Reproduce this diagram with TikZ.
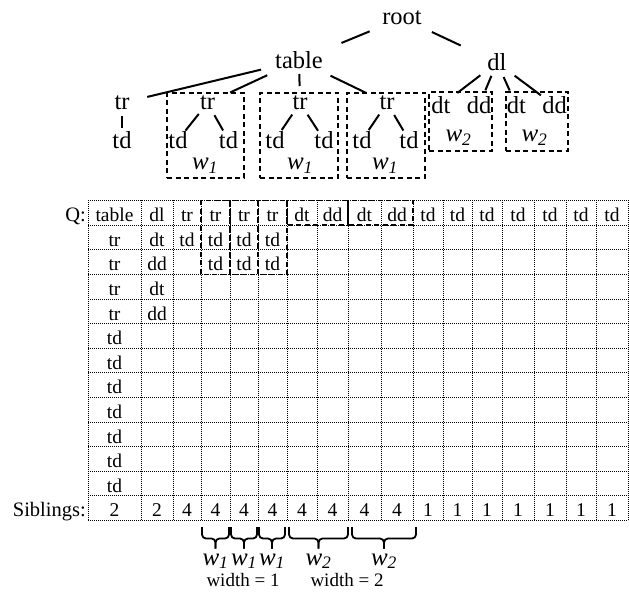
\documentclass[tikz,border=0pt]{standalone}
\usepackage{fontspec}
\setmainfont{Liberation Serif}

\newcommand{\wlab}[1]{\textit{w}\textsubscript{\textit{#1}}}
\def\colx{{114.5,157,187,215.5,244,272.5,302,332.5,364.5,397,428,457.5,487,518,550,581,612}}
\newcommand{\qcell}[3]{%
  \pgfmathsetmacro{\cellx}{\colx[#2]}%
  \pgfmathsetmacro{\celly}{200.5+(#1+1)*24.6-3.5}%
  \node[cell] (q-#1-#2) at (\cellx,\celly) {#3};}

\begin{document}
\begin{tikzpicture}[
  x=1pt, y=-1pt,
  tnode/.style={inner sep=0pt, font=\fontsize{24.5}{28}\selectfont},
  wnode/.style={inner sep=0pt, anchor=base, font=\fontsize{25}{28}\selectfont},
  branch/.style={line width=2pt},
  wbox/.style={draw, line width=1.5pt, dash pattern=on 5pt off 3.5pt, inner sep=0pt},
  cell/.style={inner sep=0pt, anchor=base, font=\fontsize{19.5}{22}\selectfont},
  rowlab/.style={inner sep=0pt, anchor=base east, font=\fontsize{20.5}{24}\selectfont},
  gridline/.style={line width=0.8pt, dash pattern=on 0.9pt off 1.1pt},
  brace/.style={line width=1.8pt, rounded corners=4pt}
]
  \useasboundingbox (0,0) rectangle (629,596);

  % tree
  \node[tnode] (root) at (402,18) {root};
  \node[tnode] (table) at (299,60.5) {table};
  \node[tnode] (dl) at (497,62.5) {dl};
  \node[tnode] (trA) at (122,103) {tr};
  \node[tnode] (tdA) at (122,140) {td};
  \node[tnode] (trB) at (207.5,103) {tr};
  \node[tnode] (tdB1) at (178,140) {td};
  \node[tnode] (tdB2) at (228.5,140) {td};
  \node[tnode] (trC) at (300,103) {tr};
  \node[tnode] (tdC1) at (275,140) {td};
  \node[tnode] (tdC2) at (324,140) {td};
  \node[tnode] (trD) at (387,103) {tr};
  \node[tnode] (tdD1) at (362,140) {td};
  \node[tnode] (tdD2) at (409,140) {td};
  \node[tnode] (dtE) at (441,105.5) {dt};
  \node[tnode] (ddE) at (479,105.5) {dd};
  \node[tnode] (dtF) at (516.5,105.5) {dt};
  \node[tnode] (ddF) at (554.5,105.5) {dd};
  \node[wnode] (wB) at (205,170) {\wlab{1}};
  \node[wnode] (wC) at (300,170) {\wlab{1}};
  \node[wnode] (wD) at (385,170) {\wlab{1}};
  \node[wnode] (wE) at (458.5,142) {\wlab{2}};
  \node[wnode] (wF) at (534.5,142) {\wlab{2}};
  \node[wbox, minimum width=77pt, minimum height=85pt] (boxB) at (205.5,135.5) {};
  \node[wbox, minimum width=78pt, minimum height=85pt] (boxC) at (299,135.5) {};
  \node[wbox, minimum width=78pt, minimum height=85pt] (boxD) at (386,135.5) {};
  \node[wbox, minimum width=63pt, minimum height=59pt] (boxE) at (460.5,121.5) {};
  \node[wbox, minimum width=62pt, minimum height=59pt] (boxF) at (537,121.5) {};

  \draw[branch, shorten <=35pt, shorten >=46pt] (root.center) -- (table.center);
  \draw[branch, shorten <=33pt, shorten >=40pt] (root.center) -- (dl.center);
  \draw[branch, shorten <=39pt, shorten >=26pt] (table.center) -- (trA.center);
  \draw[branch, shorten <=35pt, shorten >=25pt] (table.center) -- (trB.center);
  \draw[branch, shorten <=13.5pt, shorten >=17pt] (table.center) -- (trC.center);
  \draw[branch, shorten <=35pt, shorten >=23pt] (table.center) -- (trD.center);
  \draw[branch, shorten <=13pt, shorten >=12pt] (trA.center) -- (tdA.center);
  \draw[branch, shorten <=14pt, shorten >=12pt] (trB.center) -- (tdB1.center);
  \draw[branch, shorten <=14pt, shorten >=11pt] (trB.center) -- (tdB2.center);
  \draw[branch, shorten <=14pt, shorten >=12pt] (trC.center) -- (tdC1.center);
  \draw[branch, shorten <=14pt, shorten >=11pt] (trC.center) -- (tdC2.center);
  \draw[branch, shorten <=14pt, shorten >=12pt] (trD.center) -- (tdD1.center);
  \draw[branch, shorten <=14pt, shorten >=11pt] (trD.center) -- (tdD2.center);
  \draw[branch, shorten <=21pt, shorten >=20.5pt] (dl.center) -- (dtE.center);
  \draw[branch, shorten <=14.5pt, shorten >=16.5pt] (dl.center) -- (ddE.center);
  \draw[branch, shorten <=16pt, shorten >=16.5pt] (dl.center) -- (dtF.center);
  \draw[branch, shorten <=22pt, shorten >=17pt] (dl.center) -- (ddF.center);

  % grid of Q
  \foreach \xx in {88,141,173,201,230,258,287,317,348,381,413,443,472,502,534,566,596,628}
    \draw[gridline] (\xx,200.5) -- (\xx,520.3);
  \foreach \r in {0,...,13}
    \draw[gridline] (88,200.5+\r*24.6) -- (628,200.5+\r*24.6);

  \foreach \t [count=\c from 0] in {table,dl,tr,tr,tr,tr,dt,dd,dt,dd,td,td,td,td,td,td,td}
    {\qcell{0}{\c}{\t}}
  \foreach \c/\t in {0/tr,1/dt,2/td,3/td,4/td,5/td}
    {\qcell{1}{\c}{\t}}
  \foreach \c/\t in {0/tr,1/dd,3/td,4/td,5/td}
    {\qcell{2}{\c}{\t}}
  \qcell{3}{0}{tr} \qcell{3}{1}{dt}
  \qcell{4}{0}{tr} \qcell{4}{1}{dd}
  \foreach \r in {5,...,11}
    {\qcell{\r}{0}{td}}
  \foreach \t [count=\c from 0] in {2,2,4,4,4,4,4,4,4,4,1,1,1,1,1,1,1}
    {\qcell{12}{\c}{\t}}

  \node[rowlab] (qlab) at (86,221.6) {Q:};
  \node[rowlab] (siblab) at (86,516.8) {Siblings:};

  % windows in Q
  \foreach \xa/\xb in {201/230,230/258,258/287}
    \draw[wbox] (\xa,200.5) rectangle (\xb,274.3);
  \foreach \xa/\xb in {287/348,348/413}
    \draw[wbox] (\xa,200.5) rectangle (\xb,225.1);

  % braces
  \foreach \xa/\xb/\w [count=\i] in {202/229/1,231/257/1,259/285/1,289/348/2,352/416/2}
  {
    \pgfmathsetmacro{\xm}{(\xa+\xb)/2}
    \draw[brace] (\xa,527) -- (\xa,538.5) -- (\xm,538.5) -- (\xm,548.5);
    \draw[brace] (\xb,527) -- (\xb,538.5) -- (\xm,538.5) -- (\xm,548.5);
    \node[wnode] (wb\i) at (\xm,565) {\wlab{\w}};
  }
  \node[inner sep=0pt, anchor=base, font=\fontsize{19}{22}\selectfont] (width1) at (243,586.5) {width = 1};
  \node[inner sep=0pt, anchor=base, font=\fontsize{19}{22}\selectfont] (width2) at (347,586.5) {width = 2};
\end{tikzpicture}
\end{document}
